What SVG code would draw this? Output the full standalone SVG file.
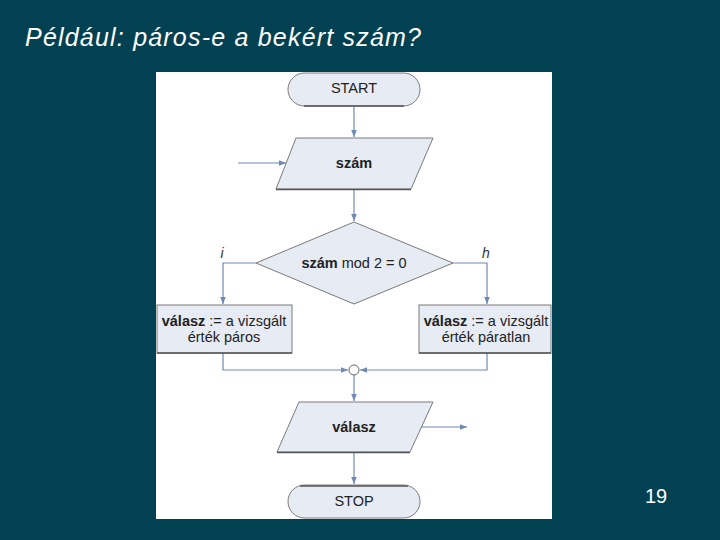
<svg xmlns="http://www.w3.org/2000/svg" width="720" height="540" viewBox="0 0 720 540">
<style>
.sh{fill:#E6EBF4;stroke:#7a7a7a;stroke-width:1}
.t{font-family:"Liberation Sans",Arial,sans-serif;font-size:14.5px;fill:#222;text-anchor:middle;dominant-baseline:central}
.b{font-weight:bold}
.c{fill:none;stroke:#6F8AB5;stroke-width:1.2}
.lbl{font-family:"Liberation Sans",Arial,sans-serif;font-size:14px;font-style:italic;fill:#333;text-anchor:middle}
.sd{stroke:#555;stroke-width:1.5}
</style>
<defs>
<marker id="ah" viewBox="0 0 10 10" refX="10" refY="5" markerWidth="7" markerHeight="7" orient="auto" markerUnits="userSpaceOnUse">
<path d="M0,1 L10,5 L0,9 z" fill="#6F8AB5"/>
</marker>
</defs>
<rect width="720" height="540" fill="#024152"/>
<text x="25" y="46" font-family="Liberation Sans,Arial,sans-serif" font-size="25" font-style="italic" fill="#ffffff" textLength="396">Például: páros-e a bekért szám?</text>
<text x="656" y="503" font-family="Liberation Sans,Arial,sans-serif" font-size="20" fill="#ffffff" text-anchor="middle">19</text>
<rect x="156" y="72" width="396" height="447" fill="#ffffff"/>

<g id="connectors">
<line class="c" x1="354" y1="107" x2="354" y2="137" marker-end="url(#ah)"/>
<line class="c" x1="238" y1="163" x2="286" y2="163" marker-end="url(#ah)"/>
<line class="c" x1="354" y1="190" x2="354" y2="221" marker-end="url(#ah)"/>
<polyline class="c" points="256,263 223,263 223,304" marker-end="url(#ah)"/>
<polyline class="c" points="453,263 487,263 487,304" marker-end="url(#ah)"/>
<polyline class="c" points="223,353 223,370 348,370" marker-end="url(#ah)"/>
<polyline class="c" points="487,353 487,370 360,370" marker-end="url(#ah)"/>
<line class="c" x1="354" y1="375" x2="354" y2="401" marker-end="url(#ah)"/>
<line class="c" x1="421" y1="427" x2="467" y2="427" marker-end="url(#ah)"/>
<line class="c" x1="354" y1="453" x2="354" y2="484" marker-end="url(#ah)"/>
<text class="lbl" x="222" y="258">i</text>
<text class="lbl" x="486" y="258">h</text>
</g>

<g id="start">
<rect class="sh" x="288" y="73" width="132" height="33" rx="16.5"/>
<line class="sd" x1="304" y1="106" x2="404" y2="106"/>
<text class="t" x="354" y="88">START</text>
</g>

<g id="input">
<polygon class="sh" points="296,138 433,138 411,189 276,189"/>
<line class="sd" x1="276" y1="189.5" x2="411" y2="189.5"/>
<text class="t b" x="354" y="163">szám</text>
</g>

<g id="decision">
<polygon class="sh" points="354,222 453,263 354,304 256,263"/>
<text class="t" x="354" y="263"><tspan font-weight="bold">szám</tspan> mod 2 = 0</text>
</g>

<g id="even">
<rect class="sh" x="157" y="305" width="135" height="48"/>
<line class="sd" x1="157" y1="353" x2="292" y2="353"/>
<text class="t" x="224" y="321"><tspan font-weight="bold">válasz</tspan> := a vizsgált</text>
<text class="t" x="224" y="337">érték páros</text>
</g>

<g id="odd">
<rect class="sh" x="419" y="305" width="132" height="48"/>
<line class="sd" x1="419" y1="353" x2="551" y2="353"/>
<text class="t" x="486" y="321"><tspan font-weight="bold">válasz</tspan> := a vizsgált</text>
<text class="t" x="486" y="337">érték páratlan</text>
</g>

<g id="merge">
<circle cx="354" cy="370" r="5" fill="#ffffff" stroke="#666" stroke-width="1"/>
</g>

<g id="output">
<polygon class="sh" points="299,402 433,402 410,452 277,452"/>
<line class="sd" x1="277" y1="452.5" x2="410" y2="452.5"/>
<text class="t b" x="354" y="427">válasz</text>
</g>

<g id="stop">
<rect class="sh" x="288" y="485" width="132" height="33" rx="16.5"/>
<line class="sd" x1="300" y1="486" x2="408" y2="486"/>
<text class="t" x="354" y="501">STOP</text>
</g>
</svg>
